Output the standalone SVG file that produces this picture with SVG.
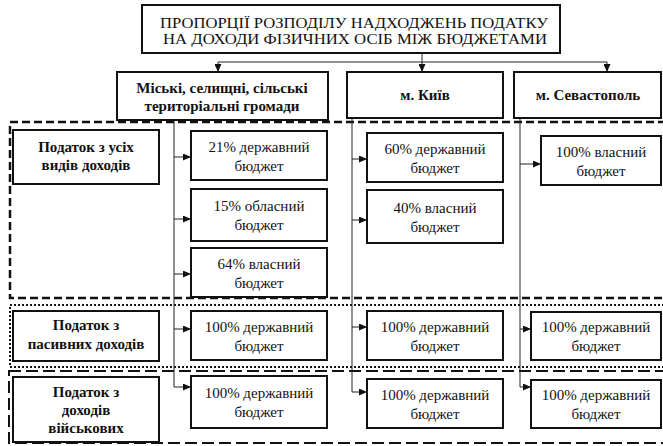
<svg xmlns="http://www.w3.org/2000/svg" width="663" height="446" viewBox="0 0 663 446">
<defs>
<marker id="ah" markerUnits="userSpaceOnUse" markerWidth="8" markerHeight="7" refX="8" refY="3.5" orient="auto">
<path d="M0,0 L8,3.5 L0,7 z" fill="#111"/>
</marker>
<style>
.box{fill:#fff;stroke:#111;stroke-width:2}
.t{font-size:15px;fill:#111;text-anchor:middle}
.b{font-weight:bold}
.c{fill:none;stroke:#222;stroke-width:1}
.a{marker-end:url(#ah)}
.r1{fill:none;stroke:#111;stroke-width:2.5;stroke-dasharray:8 4}
.r2{fill:none;stroke:#111;stroke-width:2;stroke-dasharray:2 2}
.r3{fill:none;stroke:#111;stroke-width:2;stroke-dasharray:12 5}
</style>
</defs>
<rect width="663" height="446" fill="#fff"/>

<g id="regions">
<rect class="r1" x="10" y="122" width="670" height="176"/>
<rect class="r2" x="10" y="305" width="670" height="62"/>
<rect class="r3" x="9" y="371" width="670" height="72"/>
</g>

<g id="connectors">
<line class="c" x1="218" y1="62" x2="607" y2="62"/>
<line class="c a" x1="218" y1="62" x2="218" y2="72"/>
<line class="c a" x1="422" y1="53" x2="422" y2="72"/>
<line class="c a" x1="607" y1="62" x2="607" y2="72"/>
<polyline class="c a" points="174,120 174,387 191,387"/>
<line class="c a" x1="174" y1="157" x2="191" y2="157"/>
<line class="c a" x1="174" y1="219" x2="191" y2="219"/>
<line class="c a" x1="174" y1="274" x2="191" y2="274"/>
<line class="c a" x1="174" y1="329" x2="191" y2="329"/>
<polyline class="c a" points="352,118 352,392 367,392"/>
<line class="c a" x1="352" y1="159" x2="367" y2="159"/>
<line class="c a" x1="352" y1="220" x2="367" y2="220"/>
<line class="c a" x1="352" y1="327" x2="367" y2="327"/>
<polyline class="c a" points="520,118 520,387 531,387"/>
<line class="c a" x1="520" y1="164" x2="541" y2="164"/>
<line class="c a" x1="520" y1="329" x2="531" y2="329"/>
</g>

<g id="nodes" font-family="Liberation Serif, Times New Roman, Tinos, DejaVu Serif, serif">
<g id="title">
<rect class="box" x="142" y="5" width="418" height="48"/>
<text class="t" x="354" y="28" textLength="388" lengthAdjust="spacingAndGlyphs">ПРОПОРЦІЇ РОЗПОДІЛУ НАДХОДЖЕНЬ ПОДАТКУ</text>
<text class="t" x="355" y="43.5" textLength="384" lengthAdjust="spacingAndGlyphs">НА ДОХОДИ ФІЗИЧНИХ ОСІБ МІЖ БЮДЖЕТАМИ</text>
</g>

<g id="h-communities">
<rect class="box" x="117" y="72" width="211" height="48"/>
<text class="t b" x="222" y="93">Міські, селищні, сільські</text>
<text class="t b" x="222" y="111">територіальні громади</text>
</g>
<g id="h-kyiv">
<rect class="box" x="347" y="72" width="156" height="46"/>
<text class="t b" x="425" y="100">м. Київ</text>
</g>
<g id="h-sevastopol">
<rect class="box" x="514" y="72" width="147" height="46"/>
<text class="t b" x="588" y="100">м. Севастополь</text>
</g>

<g id="l-all">
<rect class="box" x="13" y="130" width="146" height="54"/>
<text class="t b" x="86" y="152">Податок з усіх</text>
<text class="t b" x="86" y="170">видів доходів</text>
</g>
<g id="l-passive">
<rect class="box" x="13" y="311" width="146" height="50"/>
<text class="t b" x="86" y="330">Податок з</text>
<text class="t b" x="86" y="349">пасивних доходів</text>
</g>
<g id="l-military">
<rect class="box" x="13" y="377" width="146" height="65"/>
<text class="t b" x="86" y="397">Податок з</text>
<text class="t b" x="86" y="415">доходів</text>
<text class="t b" x="86" y="433">військових</text>
</g>

<g id="c1-21">
<rect class="box" x="191" y="131" width="136" height="49"/>
<text class="t" x="259" y="151.5">21% державний</text>
<text class="t" x="259" y="170.5">бюджет</text>
</g>
<g id="c1-15">
<rect class="box" x="191" y="189" width="136" height="52"/>
<text class="t" x="259" y="211">15% обласний</text>
<text class="t" x="259" y="230">бюджет</text>
</g>
<g id="c1-64">
<rect class="box" x="191" y="248" width="136" height="49"/>
<text class="t" x="259" y="268.5">64% власний</text>
<text class="t" x="259" y="287.5">бюджет</text>
</g>
<g id="c1-passive">
<rect class="box" x="191" y="311" width="136" height="49"/>
<text class="t" x="259" y="331.5">100% державний</text>
<text class="t" x="259" y="350.5">бюджет</text>
</g>
<g id="c1-military">
<rect class="box" x="191" y="376" width="136" height="52"/>
<text class="t" x="259" y="398">100% державний</text>
<text class="t" x="259" y="417">бюджет</text>
</g>

<g id="c2-60">
<rect class="box" x="367" y="133" width="136" height="49"/>
<text class="t" x="435" y="153.5">60% державний</text>
<text class="t" x="435" y="172.5">бюджет</text>
</g>
<g id="c2-40">
<rect class="box" x="367" y="190" width="136" height="53"/>
<text class="t" x="435" y="212.5">40% власний</text>
<text class="t" x="435" y="231.5">бюджет</text>
</g>
<g id="c2-passive">
<rect class="box" x="367" y="311" width="136" height="49"/>
<text class="t" x="435" y="331.5">100% державний</text>
<text class="t" x="435" y="350.5">бюджет</text>
</g>
<g id="c2-military">
<rect class="box" x="367" y="379" width="136" height="49"/>
<text class="t" x="435" y="399.5">100% державний</text>
<text class="t" x="435" y="418.5">бюджет</text>
</g>

<g id="c3-100">
<rect class="box" x="541" y="136" width="120" height="49"/>
<text class="t" x="601" y="156.5">100% власний</text>
<text class="t" x="601" y="175.5">бюджет</text>
</g>
<g id="c3-passive">
<rect class="box" x="531" y="312" width="130" height="48"/>
<text class="t" x="596" y="332">100% державний</text>
<text class="t" x="596" y="351">бюджет</text>
</g>
<g id="c3-military">
<rect class="box" x="531" y="380" width="130" height="48"/>
<text class="t" x="596" y="400">100% державний</text>
<text class="t" x="596" y="419">бюджет</text>
</g>
</g>
</svg>
